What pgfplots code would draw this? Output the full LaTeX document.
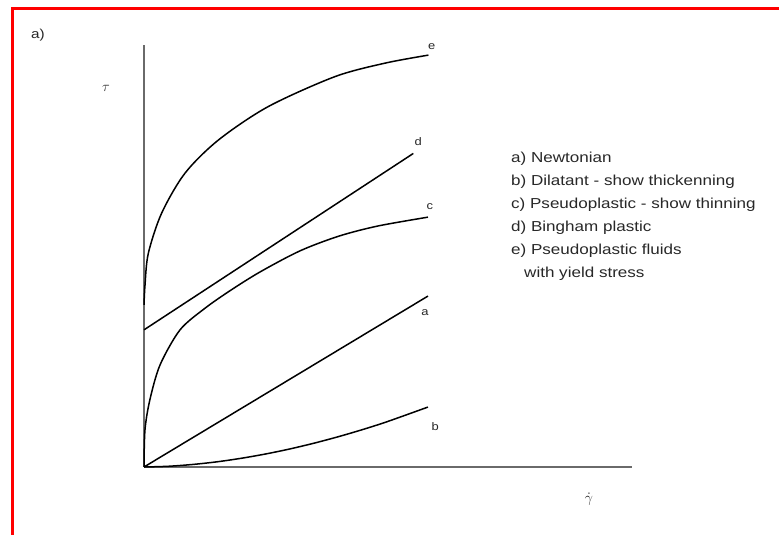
\documentclass[border=0pt]{standalone}
\usepackage{pgfplots}
\pgfplotsset{compat=1.18}
\usepackage{fontspec}
\setmainfont[FakeStretch=1.18]{Liberation Sans}

\definecolor{txt}{HTML}{282828}
\definecolor{axisgray}{HTML}{6A6A6A}

\pgfplotsset{curve/.style={black, line width=1.5bp, smooth, no markers}}

\begin{document}
\begin{tikzpicture}[x=1bp,y=1bp]
% page frame as in the scanned figure
\useasboundingbox (0,0) rectangle (779,535);
\fill[white] (0,0) rectangle (779,535);
\fill[red] (11,525) rectangle (779,528);
\fill[red] (11,0) rectangle (14,528);

\begin{axis}[
    at={(144bp,68bp)}, anchor=origin,
    scale only axis, width=488bp, height=422bp,
    xmin=0, xmax=10.02, ymin=0, ymax=10,
    axis lines=left,
    axis line style={axisgray, line width=2bp, -},
    xtick=\empty, ytick=\empty,
    clip=false,
]
% a) Newtonian
\addplot[curve] coordinates {(0,0) (5.83,4.05)};
% b) Dilatant
\addplot[curve] coordinates {(0,0) (0.5,0.017) (1,0.06) (1.5,0.123) (2,0.207) (2.5,0.309)
    (3,0.429) (3.5,0.567) (4,0.721) (4.5,0.891) (5,1.077) (5.83,1.42)};
% c) Pseudoplastic
\addplot[curve] coordinates {(0,0) (0.02,0.88) (0.12,1.59) (0.33,2.42) (0.74,3.25)
    (1.25,3.76) (1.77,4.18) (2.38,4.62) (3.2,5.12) (4.0,5.47) (4.8,5.71) (5.83,5.92)};
% d) Bingham plastic
\addplot[curve] coordinates {(0,3.25) (5.53,7.43)};
% e) Pseudoplastic with yield stress
\addplot[curve] coordinates {(0,3.84) (0.02,4.3) (0.088,5.06) (0.36,6.01) (0.84,6.96) (1.53,7.75)
    (2.55,8.54) (3.92,9.25) (4.95,9.57) (5.84,9.76)};

\begin{scope}[every node/.style={font=\fontsize{11}{13}\selectfont, text=txt}]
\node at (axis cs:5.91,9.95) {e};
\node at (axis cs:5.63,7.70) {d};
\node at (axis cs:5.87,6.16) {c};
\node at (axis cs:5.77,3.65) {a};
\node at (axis cs:5.98,0.95) {b};
\end{scope}
\end{axis}

\node[font=\fontsize{13}{15}\selectfont, text=txt] at (38,500) {a)};
\node[text=txt, font=\fontsize{15}{17}\selectfont] at (106,447) {$\tau$};
\node[text=txt, font=\fontsize{15}{17}\selectfont] at (589,36) {$\dot{\gamma}$};

\node[anchor=north west, align=left, text=txt, inner sep=0pt,
      font=\fontsize{14.5}{23}\selectfont] at (511,383) {%
a) Newtonian\\
b) Dilatant - show thickenning\\
c) Pseudoplastic - show thinning\\
d) Bingham plastic\\
e) Pseudoplastic fluids\\
\hspace*{0.9em}with yield stress};
\end{tikzpicture}
\end{document}
